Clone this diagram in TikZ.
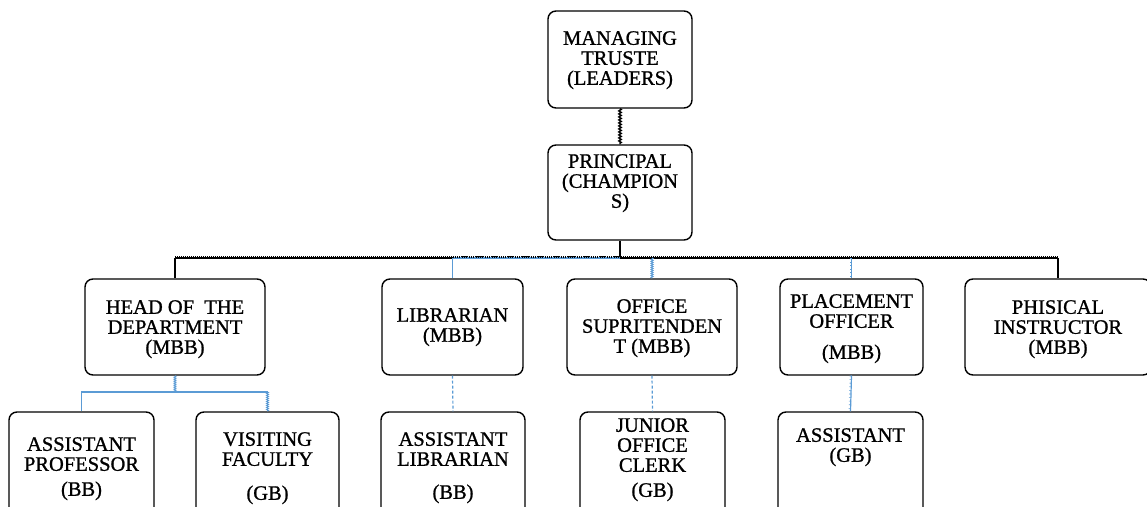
\documentclass[tikz,border=0pt]{standalone}
\usepackage{fontspec}
\setmainfont{Liberation Serif}[FakeBold=1]
\usetikzlibrary{decorations.pathmorphing,calc}
\definecolor{lnblue}{RGB}{91,155,213}
\tikzset{
  box/.style n args={2}{draw=black, line width=1.4pt, rounded corners=8pt,
    minimum width=#1, minimum height=#2, inner sep=0pt},
  txt/.style={font=\fontsize{20.5}{20}\selectfont, align=center, inner sep=0pt, anchor=north},
  blackzig/.style={draw=black, line width=1.4pt, decorate,
    decoration={zigzag, amplitude=1.2pt, segment length=3pt}},
  blackthick/.style={draw=black, line width=2pt},
  busline/.style={draw=black, line width=1.3pt,
    postaction={draw, line width=2.2pt, dash pattern=on 0.7pt off 1.3pt,
      transform canvas={yshift=1.3pt}}},
  bluebus/.style={draw=lnblue, line width=1.3pt,
    postaction={draw=black, line width=2.2pt, dash pattern=on 0.7pt off 1.6pt,
      transform canvas={yshift=1.3pt}}},
  bluesolid/.style={draw=lnblue, line width=1.2pt},
  bluedash/.style={draw=lnblue, line width=1.2pt, dash pattern=on 3pt off 2pt},
  bluezig/.style={draw=lnblue, line width=0.9pt, decorate,
    decoration={zigzag, amplitude=1pt, segment length=2pt}},
  bluetick/.style={draw=lnblue, line width=1.2pt,
    postaction={draw=lnblue, line width=2.2pt, dash pattern=on 0.6pt off 3pt,
      transform canvas={xshift=-0.8pt}}}
}
\begin{document}
\begin{tikzpicture}[x=1pt, y=-1pt]
\useasboundingbox (0,0) rectangle (1147,506);

% boxes
\node[box={144}{97}] (mt) at (620,59.5) {};
\node[box={144}{95}] (pr) at (620,192.5) {};
\node[box={180}{96}] (hod) at (175,327) {};
\node[box={141}{96}] (lib) at (452.5,327) {};
\node[box={170}{96}] (off) at (652,327) {};
\node[box={143}{96}] (plc) at (851.5,327) {};
\node[box={186}{96}] (phy) at (1058,327) {};
\node[box={145}{108}] (ap) at (81.5,466) {};
\node[box={143}{108}] (vf) at (267.5,466) {};
\node[box={144}{108}] (al) at (453,466) {};
\node[box={145}{108}] (jc) at (652.5,466) {};
\node[box={145}{108}] (as) at (850.5,466) {};

% texts
\node[txt] (mt-t) at (620,31) {MANAGING\\TRUSTE\\(LEADERS)};
\node[txt] (pr-t) at (620,154) {PRINCIPAL\\(CHAMPION\\S)};
\node[txt] (hod-t) at (175,300) {HEAD OF\ \ THE\\DEPARTMENT\\(MBB)};
\node[txt] (lib-t) at (452.5,308) {LIBRARIAN\\(MBB)};
\node[txt] (off-t) at (652,299) {OFFICE\\SUPRITENDEN\\T (MBB)};
\node[txt] (plc-t) at (851.5,294) {PLACEMENT\\OFFICER\\[11pt](MBB)};
\node[txt] (phy-t) at (1058,300) {PHISICAL\\INSTRUCTOR\\(MBB)};
\node[txt] (ap-t) at (81.5,437) {ASSISTANT\\PROFESSOR\\[5pt](BB)};
\node[txt] (vf-t) at (267.5,432) {VISITING\\FACULTY\\[14pt](GB)};
\node[txt] (al-t) at (453,432) {ASSISTANT\\LIBRARIAN\\[13pt](BB)};
\node[txt] (jc-t) at (652.5,418) {JUNIOR\\OFFICE\\CLERK\\[5pt](GB)};
\node[txt] (as-t) at (850.5,428) {ASSISTANT\\(GB)};

% top connectors
\coordinate (bus) at (620,258);
\draw[blackzig] (mt.south) -- (pr.north);
\draw[blackthick] (pr.south) -- (bus);
\draw[busline] (hod.north |- bus) -- (bus) -- (phy.north |- bus);
\draw[bluebus] (lib.north |- bus) -- (bus);
\draw[blackthick] (hod.north |- bus) -- (hod.north);
\draw[blackthick] (phy.north |- bus) -- (phy.north);
\draw[bluesolid] (lib.north |- bus) -- (lib.north);
\draw[bluezig] (off.north |- bus) -- (off.north);
\draw[bluetick] (plc.north |- bus) -- (plc.north);

% lower connectors
\coordinate (hj) at (175,392);
\draw[bluezig] (hod.south) -- (hj);
\draw[bluesolid] (ap.north) |- (vf.north |- hj);
\draw[bluezig] (vf.north |- hj) -- (vf.north);
\draw[bluedash] (lib.south) -- (al.north);
\draw[bluedash] (off.south) -- (jc.north);
\draw[bluetick] (plc.south) -- (as.north);
\end{tikzpicture}
\end{document}
